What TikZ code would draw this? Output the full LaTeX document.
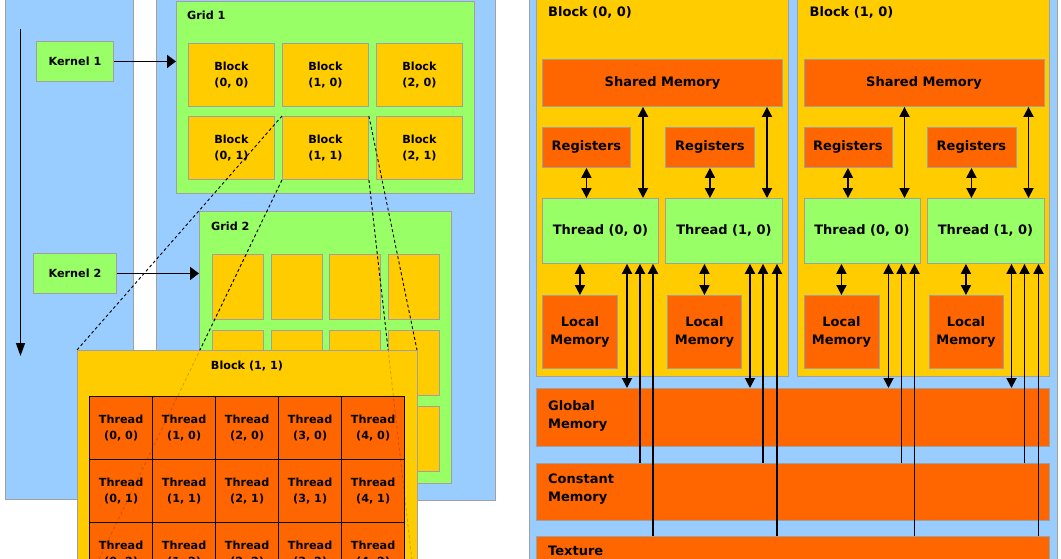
\documentclass[tikz,border=0pt]{standalone}
\usepackage{fontspec}
\setmainfont{DejaVu Sans}
\usetikzlibrary{arrows.meta,calc}
\definecolor{lblue}{HTML}{99CCFF}
\definecolor{lgreen}{HTML}{99FF66}
\definecolor{gyellow}{HTML}{FFCC00}
\definecolor{gorange}{HTML}{FF6600}
\definecolor{bgray}{HTML}{A0A0A0}
\tikzset{
  wh/.style 2 args={minimum width=#1pt, minimum height=#2pt},
  base/.style={draw=bgray, line width=0.9pt, inner sep=0pt, anchor=north west, align=center},
  panel/.style={base, fill=lblue},
  gbox/.style={base, fill=lgreen},
  ybox/.style={base, fill=gyellow},
  obox/.style={base, fill=gorange},
  tcell/.style={draw=black, line width=1.3pt, fill=gorange, inner sep=0pt, anchor=north west, align=center},
  lfont/.style={font=\fontsize{11.2}{16}\selectfont\bfseries},
  rfont/.style={font=\fontsize{13}{18}\selectfont\bfseries},
  lbl/.style={lfont, inner sep=0pt, anchor=west},
  rlbl/.style={rfont, inner sep=0pt, anchor=west, align=left},
  karr/.style={line width=1.8pt, -{Triangle[width=13pt,length=9pt]}},
  tarr/.style={line width=1.4pt, -{Triangle[width=9pt,length=13pt]}},
  arr/.style={line width=1.8pt, -{Triangle[width=10pt,length=10pt]}},
  dbl/.style={line width=1.8pt, {Triangle[width=10pt,length=10pt]}-{Triangle[width=10pt,length=10pt]}},
  dsh/.style={line width=0.9pt, dash pattern=on 3pt off 2.5pt},
}
\begin{document}
\begin{tikzpicture}[x=1pt,y=-1pt]
\useasboundingbox (0,0) rectangle (1061,558);
\clip (0,0) rectangle (1061,558);
\fill[white] (0,0) rectangle (1061,558);

% ---------------- left part ----------------
\node[panel, wh={128}{502}] (pL) at (5,-3) {};
\node[panel, wh={339}{503}] (pR) at (156,-3) {};

\coordinate (t0) at (20.5,29);
\coordinate (t1) at (20.5,356);
\draw[tarr] (t0) -- (t1);

\node[gbox, lfont, wh={77}{40}] (k1) at (36,41) {Kernel 1};
\node[gbox, lfont, wh={83}{40}] (k2) at (33,253) {Kernel 2};

\node[gbox, wh={298}{192}] (g1) at (176,1) {};
\node[lbl] (g1l) at (187,15) {Grid 1};
\foreach \c/\x in {0/188,1/282,2/376}
  \foreach \r/\y in {0/43,1/116}
    \node[ybox, lfont, wh={86}{63}] (b\c\r) at (\x,\y) {Block\\(\c, \r)};

\node[gbox, wh={252}{272}] (g2) at (199,211) {};
\node[lbl] (g2l) at (211,226) {Grid 2};
\foreach \c/\x in {0/212,1/271,2/329,3/388}
  \foreach \r/\y in {0/254,1/330,2/406}
    \node[ybox, wh={51}{65}] (gb\c\r) at (\x,\y) {};

\draw[karr] (k1.east) -- (k1.east -| g1.west);
\draw[karr] (k2.east) -- (k2.east -| g2.west);

% big block
\coordinate (bbnw) at (77,350);
\coordinate (bbne) at (417,350);
\coordinate (bbsw) at (77,605);
\coordinate (bbse) at (417,605);
\draw[dsh] (b11.north west) -- (bbnw);
\draw[dsh] (b11.south west) -- (bbsw);
\draw[dsh] (b11.north east) -- (bbne);
\draw[dsh] (b11.south east) -- (bbse);

\node[ybox, wh={340}{255}] (bb) at (77,350) {};
\node[lfont, inner sep=0pt] (bbl) at (247,366) {Block (1, 1)};
\foreach \c in {0,...,4}
  \foreach \r in {0,1,2}
    \node[tcell, lfont, wh={63}{63}] (th\c\r) at ({89+63*\c},{396+63*\r}) {Thread\\(\c, \r)};

\draw[dsh, opacity=0.18] (b11.south west) -- (bbsw);
\draw[dsh, opacity=0.18] (b11.south east) -- (bbse);

% ---------------- right part ----------------
\node[panel, wh={528}{566}] (pM) at (529,-3) {};

\foreach \b/\ox in {0/0,1/261.5} {
  \node[ybox, wh={252}{379}] (blk\b) at ({535.5+\ox},-3) {};
  \node[rlbl] (blkl\b) at ({548+\ox},12) {Block (\b, 0)};
  \node[obox, rfont, wh={240}{47}] (sh\b) at ({542+\ox},59) {Shared Memory};
  \node[obox, rfont, wh={88}{40}] (regA\b) at ({542+\ox},127) {Registers};
  \node[obox, rfont, wh={89}{40}] (regB\b) at ({665+\ox},127) {Registers};
  \node[gbox, rfont, wh={116}{65}] (thA\b) at ({542+\ox},198) {Thread (0, 0)};
  \node[gbox, rfont, wh={117}{65}] (thB\b) at ({665+\ox},198) {Thread (1, 0)};
  \node[obox, rfont, wh={75}{73}] (locA\b) at ({542+\ox},295) {Local\\Memory};
  \node[obox, rfont, wh={74}{73}] (locB\b) at ({667+\ox},295) {Local\\Memory};
}

\node[obox, wh={513}{58}] (glob) at (536,388) {};
\node[rlbl] (globl) at (548,415.5) {Global\\Memory};
\node[obox, wh={513}{57}] (cons) at (536,463) {};
\node[rlbl] (consl) at (548,489.5) {Constant\\Memory};
\node[obox, wh={513}{40}] (tex) at (536,536) {};
\node[rlbl] (texl) at (548,551) {Texture};

\foreach \b in {0,1} {
  % registers <-> threads
  \draw[dbl] (regA\b.south) -- (regA\b.south |- thA\b.north);
  \draw[dbl] (regB\b.south) -- (regB\b.south |- thB\b.north);
  % shared <-> threads
  \coordinate (sA\b) at ([xshift=101pt]thA\b.north west);
  \coordinate (sB\b) at ([xshift=102pt]thB\b.north west);
  \draw[dbl] (sA\b |- sh\b.south) -- (sA\b);
  \draw[dbl] (sB\b |- sh\b.south) -- (sB\b);
  % local <-> threads
  \draw[dbl] (thA\b.south -| locA\b.north) -- (locA\b.north);
  \draw[dbl] (thB\b.south -| locB\b.north) -- (locB\b.north);
  % global, constant, texture
  \coordinate (gA\b) at ([xshift=85pt]thA\b.south west);
  \coordinate (cA\b) at ([xshift=98pt]thA\b.south west);
  \coordinate (xA\b) at ([xshift=111pt]thA\b.south west);
  \coordinate (gB\b) at ([xshift=85pt]thB\b.south west);
  \coordinate (cB\b) at ([xshift=98pt]thB\b.south west);
  \coordinate (xB\b) at ([xshift=112pt]thB\b.south west);
  \draw[dbl] (gA\b) -- (gA\b |- glob.north);
  \draw[dbl] (gB\b) -- (gB\b |- glob.north);
  \draw[arr] (cA\b |- cons.north) -- (cA\b);
  \draw[arr] (cB\b |- cons.north) -- (cB\b);
  \draw[arr] (xA\b |- tex.north) -- (xA\b);
  \draw[arr] (xB\b |- tex.north) -- (xB\b);
}
\end{tikzpicture}
\end{document}
